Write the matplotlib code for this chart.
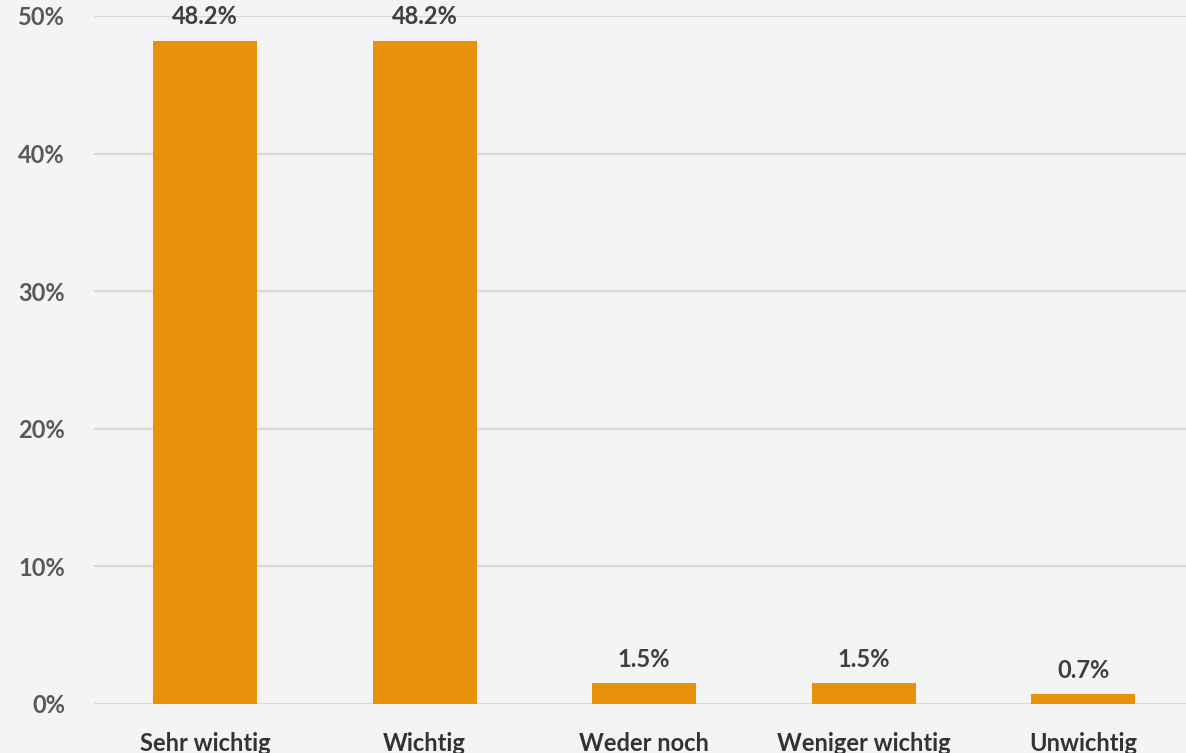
import numpy as np
import matplotlib.pyplot as plt

categories = ['Sehr wichtig', 'Wichtig', 'Weder noch', 'Weniger wichtig', 'Unwichtig']
shares = [48.2, 48.2, 1.5, 1.5, 0.7]
yticks = [0, 10, 20, 30, 40, 50]

bg = '#f4f4f6'
bar_color = '#e8910b'

plt.rcParams['font.family'] = ['Lato', 'DejaVu Sans']
plt.rcParams['font.weight'] = 'bold'

fig = plt.figure(figsize=(11.86, 7.53), dpi=100, facecolor=bg)
ax = fig.add_axes([0.0793, 0.0651, 0.9207, 0.9137])
ax.set_facecolor(bg)

x = np.arange(len(categories))
ax.bar(x, shares, width=0.474, color=bar_color, zorder=3)

for xi, v in zip(x, shares):
    ax.annotate(f'{v:.1f}%', (xi, v), xytext=(0, 9), textcoords='offset points',
                ha='center', va='bottom', fontsize=17, fontweight='bold', color='#3f3f3f')

ax.set_xlim(-0.505, 4.467)
ax.set_ylim(0, 50)
ax.set_yticks(yticks)
ax.set_yticklabels([f'{t}%' for t in yticks])
ax.grid(axis='y', color='#d9d9d9', linewidth=1.6, zorder=0)
ax.set_axisbelow(True)

ax.set_xticks(x)
ax.set_xticklabels(categories)
ax.tick_params(axis='x', length=0, pad=20, labelsize=17, labelcolor='#333333')
ax.tick_params(axis='y', length=0, pad=21, labelsize=17, labelcolor='#595959')
for s in ax.spines.values():
    s.set_visible(False)

fig.savefig('out.png', dpi=100, facecolor=bg)
